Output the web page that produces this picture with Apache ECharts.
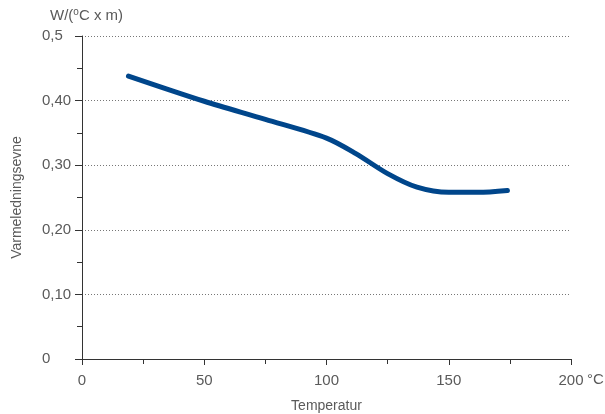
<!DOCTYPE html>
<html>
<head>
<meta charset="utf-8">
<script src="https://cdn.jsdelivr.net/npm/echarts@6/dist/echarts.min.js"></script>
<style>
  html, body { margin: 0; padding: 0; background: #fff; }
  #chart { width: 605px; height: 414px; }
</style>
</head>
<body>
<div id="chart"></div>
<script>
// Thermal conductivity versus temperature
const temperatures = [19, 50, 75, 100, 112, 125, 137, 150, 162, 174];
const conductivity = [0.438, 0.399, 0.371, 0.342, 0.318, 0.287, 0.266, 0.258, 0.258, 0.261];
const yTickLabels = { '0': '0', '0.1': '0,10', '0.2': '0,20', '0.3': '0,30', '0.4': '0,40', '0.5': '0,5' };
const xTickLabels = ['0', '50', '100', '150', '200'];

const textColor = '#5a5a5a';
const fontFamily = 'Liberation Sans, Arial, sans-serif';

const chart = echarts.init(document.getElementById('chart'));
chart.setOption({
  animation: false,
  grid: { left: 82, right: 34, top: 36, bottom: 55, outerBoundsMode: 'none', containLabel: false },
  xAxis: {
    type: 'value', min: 0, max: 200, interval: 50,
    name: 'Temperatur', nameLocation: 'middle', nameGap: 40,
    nameTextStyle: { color: textColor, fontSize: 14, fontFamily },
    axisLine: { lineStyle: { color: '#333', width: 1 } },
    axisTick: { show: true, length: 6, lineStyle: { color: '#333' } },
    minorTick: { show: true, splitNumber: 2, length: 5, lineStyle: { color: '#333' } },
    axisLabel: {
      color: textColor, fontSize: 15, fontFamily, margin: 14,
      formatter: v => xTickLabels[v / 50]
    },
    splitLine: { show: false }
  },
  yAxis: {
    type: 'value', min: 0, max: 0.5, interval: 0.1,
    name: 'Varmeledningsevne', nameLocation: 'middle', nameRotate: 90, nameGap: 58,
    nameTextStyle: { color: textColor, fontSize: 14, fontFamily },
    axisLine: { show: true, lineStyle: { color: '#333', width: 1 } },
    axisTick: { show: true, length: 7, lineStyle: { color: '#333' } },
    minorTick: { show: true, splitNumber: 2, length: 5, lineStyle: { color: '#333' } },
    axisLabel: {
      color: textColor, fontSize: 15, fontFamily, margin: 40, align: 'left',
      formatter: v => yTickLabels[String(Math.round(v * 10) / 10)]
    },
    splitLine: { show: true, lineStyle: { color: '#777', width: 1, type: [1, 2] } }
  },
  graphic: [
    {
      type: 'text', left: 50, top: 7,
      style: {
        text: 'W/({s|o}C x m)',
        fill: textColor, font: '15px ' + fontFamily,
        rich: { s: { fontSize: 10, verticalAlign: 'top', padding: [0, 0, 7, 0], fill: textColor } }
      }
    },
    {
      type: 'text', left: 587, top: 372,
      style: { text: '°C', fill: textColor, font: '15px ' + fontFamily }
    }
  ],
  series: [{
    type: 'line',
    data: temperatures.map((t, i) => [t, conductivity[i]]),
    smooth: 0.3,
    showSymbol: false,
    lineStyle: { color: '#00468b', width: 5, cap: 'round' }
  }]
});
</script>
</body>
</html>
